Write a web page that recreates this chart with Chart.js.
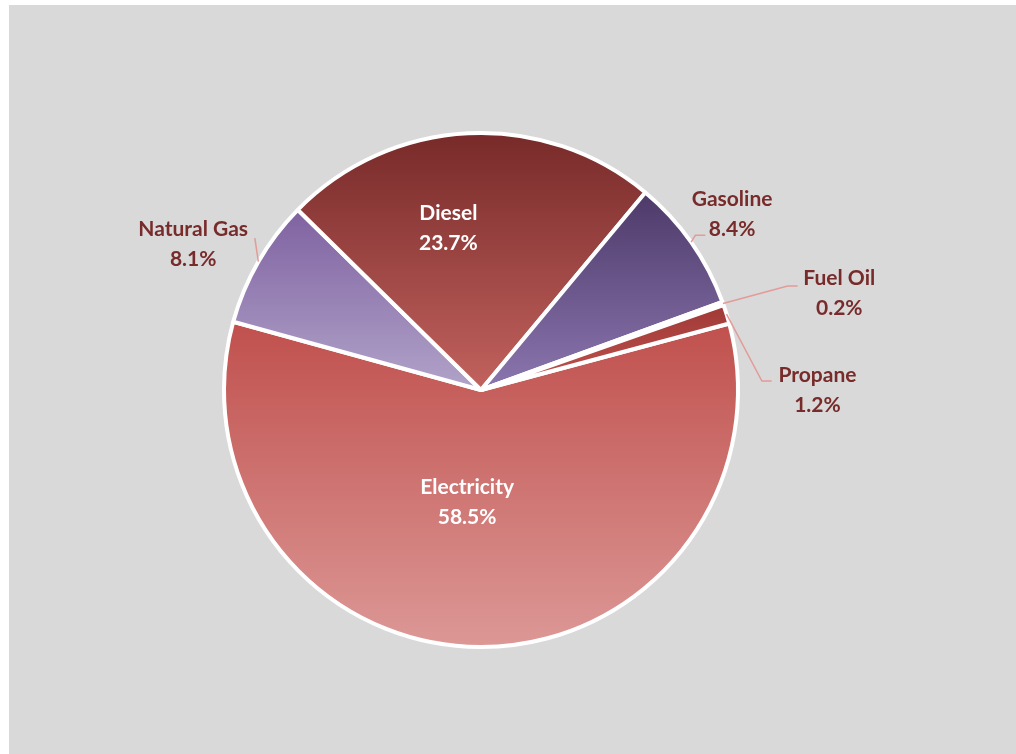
<!DOCTYPE html>
<html lang="en">
<head>
  <meta charset="UTF-8" />
  <title>Energy Use by Fuel Type</title>
  <style>
    body {
      margin: 0;
      background: #ffffff;
      font-family: 'Lato', sans-serif;
    }
    #panel {
      position: absolute;
      left: 9px;
      top: 5px;
      width: 1007px;
      height: 749px;
      background: #d9d9d9;
    }
  </style>
</head>
<body>
  <div id="panel">
    <canvas id="myChart"></canvas>
  </div>

  <script src="https://cdn.jsdelivr.net/npm/chart.js"></script>
  <script>
    const fuels = ['Electricity', 'Natural Gas', 'Diesel', 'Gasoline', 'Fuel Oil', 'Propane'];
    const shares = [58.5, 8.1, 23.7, 8.4, 0.2, 1.2];

    // top / bottom colours of each slice's vertical gradient
    const topColors = ['#c0504d', '#7f62a1', '#772a29', '#4d3a69', '#9e3835', '#a03a37'];
    const bottomColors = ['#dc9896', '#b1a3c9', '#c2625e', '#8b76af', '#b4504c', '#c0524e'];

    // label placement, in units of the pie radius relative to the centre
    const labelSpots = [
      { at: [-0.054, 0.436], inside: true },
      { at: [-1.12, -0.568], line: [[-0.880, -0.591]] },
      { at: [-0.127, -0.629], inside: true },
      { at: [0.977, -0.683], line: [[0.834, -0.602], [0.873, -0.602]] },
      { at: [1.394, -0.375], line: [[1.193, -0.405], [1.232, -0.405]] },
      { at: [1.309, 0.0], line: [[1.093, -0.035], [1.131, -0.035]] }
    ];

    function arcBox(arc) {
      const { x, y, outerRadius: r, startAngle: a0, endAngle: a1 } = arc;
      let minY = Math.min(y, y + r * Math.sin(a0), y + r * Math.sin(a1));
      let maxY = Math.max(y, y + r * Math.sin(a0), y + r * Math.sin(a1));
      for (let k = -4; k <= 4; k++) {
        const t = Math.PI / 2 + k * Math.PI;
        if (t > a0 && t < a1) {
          minY = Math.min(minY, y + r * Math.sin(t));
          maxY = Math.max(maxY, y + r * Math.sin(t));
        }
      }
      return { minY, maxY };
    }

    const gradientFill = {
      id: 'gradientFill',
      beforeDatasetsDraw(chart) {
        const ctx = chart.ctx;
        chart.getDatasetMeta(0).data.forEach((arc, i) => {
          const b = arcBox(arc);
          const g = ctx.createLinearGradient(0, b.minY, 0, b.maxY);
          g.addColorStop(0, topColors[i]);
          g.addColorStop(1, bottomColors[i]);
          arc.options.backgroundColor = g;
        });
      }
    };

    const sliceLabels = {
      id: 'sliceLabels',
      afterDatasetsDraw(chart) {
        const ctx = chart.ctx;
        ctx.save();
        ctx.font = 'bold 21px Lato';
        ctx.textAlign = 'center';
        ctx.textBaseline = 'middle';
        chart.getDatasetMeta(0).data.forEach((arc, i) => {
          const spot = labelSpots[i];
          const r = arc.outerRadius;
          const cx = arc.x, cy = arc.y;
          if (spot.line) {
            const mid = (arc.startAngle + arc.endAngle) / 2;
            ctx.beginPath();
            ctx.moveTo(cx + r * Math.cos(mid), cy + r * Math.sin(mid));
            spot.line.forEach(p => ctx.lineTo(cx + p[0] * r, cy + p[1] * r));
            ctx.strokeStyle = '#e39b98';
            ctx.lineWidth = 1.5;
            ctx.stroke();
          }
          const lx = cx + spot.at[0] * r;
          const ly = cy + spot.at[1] * r;
          ctx.fillStyle = spot.inside ? '#ffffff' : '#772b2a';
          ctx.fillText(fuels[i], lx, ly - 15);
          ctx.fillText(shares[i].toFixed(1) + '%', lx, ly + 15);
        });
        ctx.restore();
      }
    };

    new Chart(document.getElementById('myChart'), {
      type: 'pie',
      data: {
        labels: fuels,
        datasets: [{
          data: shares,
          backgroundColor: (c) => topColors[c.dataIndex],
          borderColor: '#ffffff',
          borderWidth: 4
        }]
      },
      options: {
        responsive: true,
        maintainAspectRatio: false,
        animation: false,
        rotation: 75,
        layout: {
          padding: { top: 126, bottom: 105, left: 100, right: 163 }
        },
        plugins: {
          legend: { display: false },
          tooltip: { enabled: false }
        }
      },
      plugins: [gradientFill, sliceLabels]
    });
  </script>
</body>
</html>
